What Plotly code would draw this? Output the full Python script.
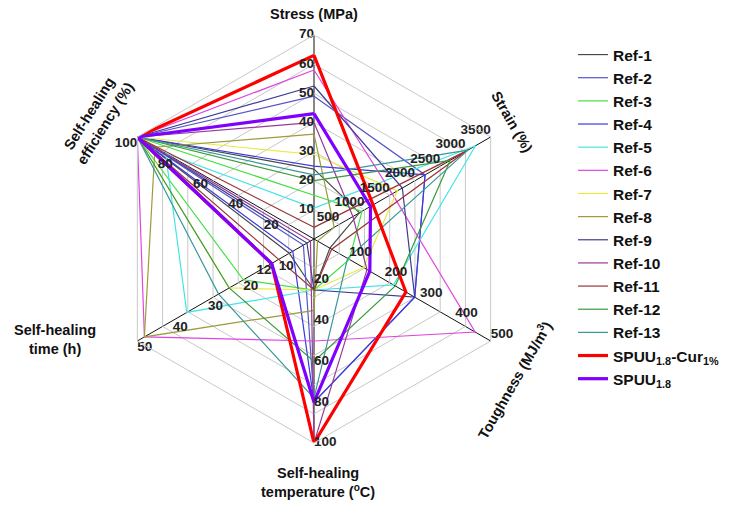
import plotly.graph_objects as go

# Radar axes, clockwise from the top, each with its own scale
axis_keys = ["stress", "strain", "toughness", "temperature", "time", "efficiency"]
axis_max = [70, 3500, 500, 100, 50, 100]
stress_ticks = [0, 10, 20, 30, 40, 50, 60, 70]
strain_ticks = [0, 500, 1000, 1500, 2000, 2500, 3000, 3500]
toughness_ticks = [0, 100, 200, 300, 400, 500]
temperature_ticks = [0, 20, 40, 60, 80, 100]
time_ticks = [0, 10, 20, 30, 40, 50]
efficiency_ticks = [0, 20, 40, 60, 80, 100]
extra_time_tick = 12

# Values per material: stress, strain, toughness, healing temperature, healing time, healing efficiency
ref_1 = [24, 900, 45, 25, 7, 100]
ref_2 = [49, 2200, 285, 80, 3, 100]
ref_3 = [15, 950, 100, 25, 20, 100]
ref_4 = [25, 2200, 285, 80, 6, 100]
ref_5 = [10.6, 3200, 225, 25, 36, 84]
ref_6 = [58, 1550, 456, 50, 48, 100]
ref_7 = [29, 1650, 140, 25, 24, 100]
ref_8 = [36, 400, 10, 35, 48, 90]
ref_9 = [52.5, 1750, 285, 25, 2, 100]
ref_10 = [40, 770, 150, 100, 1, 100]
ref_11 = [4, 3050, 50, 25, 10, 100]
ref_12 = [20, 2700, 230, 60, 24, 100]
ref_13 = [22, 3050, 95, 78, 27, 100]
spuu_cur = [63, 1170, 260, 100, 12, 100]
spuu = [43, 1120, 158, 80, 12, 100]

series_names = ["Ref-1", "Ref-2", "Ref-3", "Ref-4", "Ref-5", "Ref-6", "Ref-7", "Ref-8",
                "Ref-9", "Ref-10", "Ref-11", "Ref-12", "Ref-13",
                "SPUU<sub>1.8</sub>-Cur<sub>1%</sub>", "SPUU<sub>1.8</sub>"]
series_values = [ref_1, ref_2, ref_3, ref_4, ref_5, ref_6, ref_7, ref_8, ref_9,
                 ref_10, ref_11, ref_12, ref_13, spuu_cur, spuu]
series_colors = ["#4a4a4a", "#5656c8", "#45e045", "#3a3ae0", "#45e5e5", "#e045e0",
                 "#eaea40", "#9c9c3c", "#3c3c96", "#963c96", "#9c3434", "#3a9a3a",
                 "#3a9898", "#ff0000", "#8000ff"]
series_widths = [1.2] * 13 + [3.2, 3.2]

FONT = "Liberation Sans, Arial, sans-serif"


def norm(values):
    return [v / m for v, m in zip(values, axis_max)]


fig = go.Figure()

closed_theta = axis_keys + axis_keys[:1]
for name, vals, col, w in zip(series_names, series_values, series_colors, series_widths):
    r = norm(vals)
    fig.add_trace(go.Scatterpolar(
        r=r + r[:1], theta=closed_theta, mode="lines", name="<b>" + name + "</b>",
        line=dict(color=col, width=w), hoverinfo="name"))

# Tick labels along every spoke
tick_sets = [stress_ticks, strain_ticks, toughness_ticks, temperature_ticks, time_ticks, efficiency_ticks]
tick_pos = ["middle left", "top left", "top right", "middle right", "bottom right", "bottom left"]
tick_font = dict(family=FONT, size=13.5, color="#222222")
for key, ticks, m, pos in zip(axis_keys, tick_sets, axis_max, tick_pos):
    fig.add_trace(go.Scatterpolar(
        r=[t / m for t in ticks], theta=[key] * len(ticks), mode="text",
        text=["<b>%d</b>" % t for t in ticks], textposition=pos,
        textfont=tick_font, showlegend=False, hoverinfo="skip"))
fig.add_trace(go.Scatterpolar(
    r=[extra_time_tick / 50], theta=["time"], mode="text",
    text=["<b>%d</b>" % extra_time_tick], textposition="bottom left",
    textfont=tick_font, showlegend=False, hoverinfo="skip"))

W, H = 744, 508
cx, cy, rad = 314, 239, 204
fig.update_layout(
    width=W, height=H, margin=dict(l=0, r=0, t=0, b=0),
    paper_bgcolor="white", plot_bgcolor="white",
    polar=dict(
        domain=dict(x=[(cx - rad) / W, (cx + rad) / W], y=[(H - cy - rad) / H, (H - cy + rad) / H]),
        bgcolor="white", gridshape="linear",
        radialaxis=dict(range=[0, 1], tickvals=[k / 7 for k in range(1, 8)], showticklabels=False,
                        ticks="", showline=False, gridcolor="#c8c8c8", gridwidth=1),
        angularaxis=dict(rotation=90, direction="clockwise", showticklabels=False, ticks="",
                         gridcolor="#111111", gridwidth=1, showline=True,
                         linecolor="#c8c8c8", linewidth=1),
    ),
    showlegend=True,
    legend=dict(x=573 / W, y=1 - 38 / H, xanchor="left", yanchor="top",
                font=dict(family=FONT, size=15.5, color="#111111"),
                bgcolor="rgba(0,0,0,0)"),
)

title_font = dict(family=FONT, size=14.5, color="#111111")
titles = [
    ("<b>Stress (MPa)</b>", 314, 14, 0),
    ("<b>Strain (%)</b>", 512, 122, 60),
    ("<b>Toughness (MJ/m<sup>3</sup>)</b>", 514, 380, -60),
    ("<b>Self-healing<br>temperature (<sup>o</sup>C)</b>", 318, 482, 0),
    ("<b>Self-healing<br>time (h)</b>", 55, 339, 0),
    ("<b>Self-healing<br>efficiency (%)</b>", 97, 118, -58),
]
for text, x, y, ang in titles:
    fig.add_annotation(text=text, x=x / W, y=1 - y / H, xref="paper", yref="paper",
                       xanchor="center", yanchor="middle",
                       showarrow=False, textangle=ang, font=title_font, align="center")

fig.write_html("out.html")
